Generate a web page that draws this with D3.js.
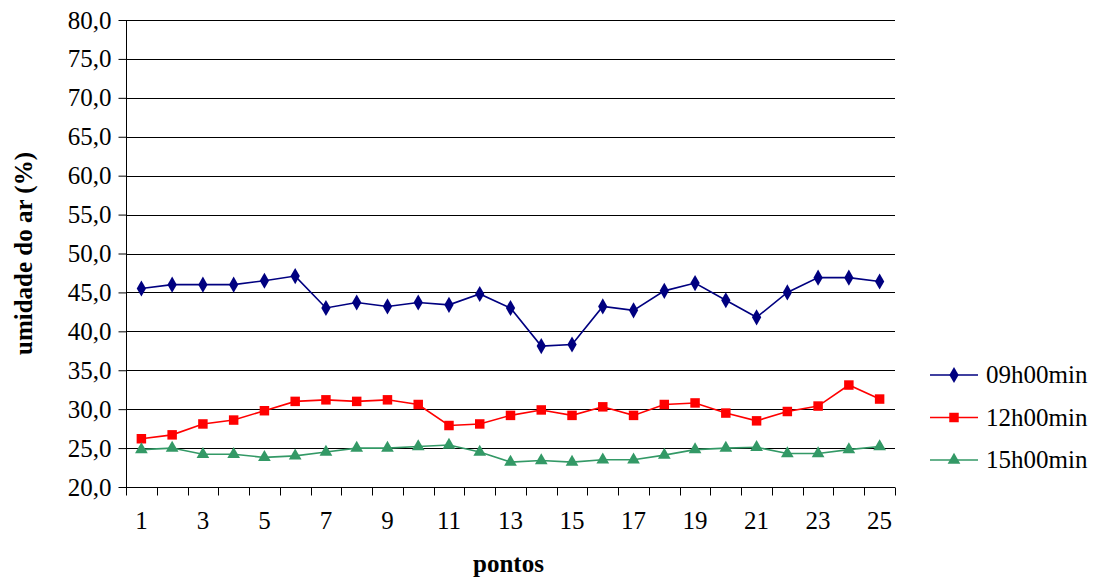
<!DOCTYPE html>
<html><head><meta charset="utf-8">
<script src="https://cdn.jsdelivr.net/npm/d3@7"></script>
<style>body{margin:0;background:#fff}svg{display:block}
svg text{font-family:"Liberation Serif","Times New Roman",Tinos,"DejaVu Serif",serif !important;}</style>
</head><body>
<svg id="c" width="1098" height="579"></svg>
<script>
const points = d3.range(1, 26);
const s09 = [45.5,46.0,46.0,46.0,46.5,47.1,43.0,43.7,43.2,43.7,43.4,44.8,43.0,38.1,38.3,43.2,42.7,45.2,46.2,44.0,41.8,45.0,46.9,46.9,46.4];
const s12 = [26.2,26.7,28.1,28.6,29.8,31.0,31.2,31.0,31.2,30.6,27.9,28.1,29.2,29.9,29.2,30.3,29.2,30.6,30.8,29.5,28.5,29.7,30.4,33.1,31.3];
const s15 = [24.8,25.0,24.2,24.2,23.8,24.0,24.5,25.0,25.0,25.2,25.4,24.5,23.2,23.4,23.2,23.5,23.5,24.1,24.8,25.0,25.1,24.3,24.3,24.8,25.2];
const seriesNames = ["09h00min","12h00min","15h00min"];
const yTicks = d3.range(20, 80.1, 5);
const xLabels = [1,3,5,7,9,11,13,15,17,19,21,23,25];

const series = [
  {name: seriesNames[0], values: s09, color: "#000080", sym: d3.symbolDiamond, size: 75},
  {name: seriesNames[1], values: s12, color: "#FF0000", sym: d3.symbolSquare, size: 90},
  {name: seriesNames[2], values: s15, color: "#339966", sym: d3.symbolTriangle, size: 70}
];

const svg = d3.select("#c");
const L = 126, R = 895, T = 20, B = 487;
const x = d3.scaleBand().domain(points).range([L, R]);
const y = d3.scaleLinear().domain([20, 80]).range([B, T]);
const ff = '"Liberation Serif","Times New Roman",serif';

// gridlines
svg.append("g").selectAll("line").data(yTicks.filter(v => v > 20)).join("line")
  .attr("x1", L).attr("x2", R).attr("y1", d => Math.round(y(d)) + 0.5).attr("y2", d => Math.round(y(d)) + 0.5)
  .attr("stroke", "#000").attr("stroke-width", 1);

// y axis
const yAxis = svg.append("g").attr("transform", `translate(${L + 0.5},0)`)
  .call(d3.axisLeft(y).tickValues(yTicks).tickSize(8).tickPadding(6)
    .tickFormat(d => d3.format(".1f")(d).replace(".", ",")));
yAxis.attr("font-family", null);
yAxis.select(".domain").attr("stroke", "#000").attr("d", `M0,${T}V${B}`);
yAxis.selectAll(".tick line").attr("stroke", "#000");
yAxis.selectAll("text").style("font-family", ff).attr("font-size", 25).attr("fill", "#000").attr("dx", "-1");

// x axis
const xAxis = svg.append("g").attr("transform", `translate(0,${B + 0.5})`);
xAxis.append("line").attr("x1", L).attr("x2", R).attr("stroke", "#000");
const bounds = points.map(p => x(p)).concat([R]);
xAxis.selectAll("line.t").data(bounds).join("line").attr("class", "t")
  .attr("x1", d => Math.round(d) + 0.5).attr("x2", d => Math.round(d) + 0.5)
  .attr("y1", 0).attr("y2", 8).attr("stroke", "#000");
xAxis.selectAll("text").data(xLabels).join("text")
  .attr("x", d => x(d) + x.bandwidth() / 2).attr("y", 41)
  .attr("text-anchor", "middle").style("font-family", ff).attr("font-size", 25).text(d => d);

// axis titles
svg.append("text").attr("x", (L + R) / 2 - 2).attr("y", 572).attr("text-anchor", "middle")
  .style("font-family", ff).attr("font-size", 25).attr("font-weight", "bold").text("pontos");
svg.append("text").attr("transform", `translate(32,${(T + B) / 2}) rotate(-90)`)
  .attr("text-anchor", "middle").style("font-family", ff).attr("font-size", 25)
  .attr("font-weight", "bold").text("umidade do ar (%)");

// series
const cx = d => x(d) + x.bandwidth() / 2;
series.forEach(s => {
  const line = d3.line().x((v, i) => cx(points[i])).y(v => y(v));
  svg.append("path").datum(s.values).attr("d", line).attr("fill", "none")
    .attr("stroke", s.color).attr("stroke-width", 1.6);
  svg.append("g").selectAll("path").data(s.values).join("path")
    .attr("transform", (v, i) => `translate(${cx(points[i])},${y(v)})`)
    .attr("d", d3.symbol().type(s.sym).size(s.size)).attr("fill", s.color);
});

// legend
const lg = svg.append("g");
series.forEach((s, i) => {
  const yy = 375 + i * 42.5;
  lg.append("line").attr("x1", 930).attr("x2", 978).attr("y1", yy).attr("y2", yy)
    .attr("stroke", s.color).attr("stroke-width", 1.6);
  lg.append("path").attr("transform", `translate(954,${yy})`)
    .attr("d", d3.symbol().type(s.sym).size(s.size)).attr("fill", s.color);
  lg.append("text").attr("x", 986).attr("y", yy + 8).style("font-family", ff)
    .attr("font-size", 25).text(s.name);
});
</script>
</body></html>
